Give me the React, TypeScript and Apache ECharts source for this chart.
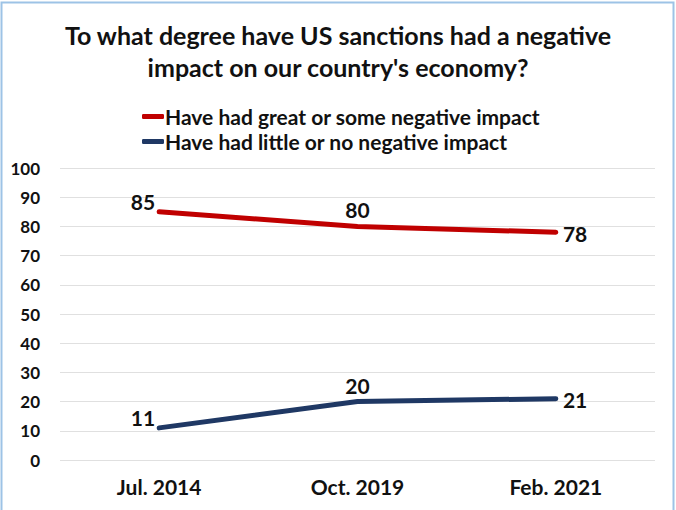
import React, { useEffect, useRef } from "react";
import * as echarts from "echarts";

const categories = ["Jul. 2014", "Oct. 2019", "Feb. 2021"];
const negativeImpact = [85, 80, 78];
const littleImpact = [11, 20, 21];
const seriesNames = [
  "Have had great or some negative impact",
  "Have had little or no negative impact",
];
const titleText = "To what degree have US sanctions had a negative\nimpact on our country's economy?";

const FONT = "Lato, 'Open Sans', sans-serif";

export default function App() {
  const ref = useRef<HTMLDivElement>(null);
  useEffect(() => {
    document.body.style.margin = "0";
    const chart = echarts.init(ref.current!, null, { renderer: "svg" });
    const labelPos = ["left", "top", "right"];
    const labelDist = [4, 6, 7];
    const labelOffset = [[0, -10], [0, 0], [0, 1]];
    const mkData = (vals: number[]) =>
      vals.map((v, i) => ({
        value: v,
        label: { position: labelPos[i], distance: labelDist[i], offset: labelOffset[i] },
      }));
    const labelStyle = {
      show: true,
      fontFamily: FONT,
      fontSize: 21,
      fontWeight: "bold",
      color: "#111",
    };
    chart.setOption({
      animation: false,
      backgroundColor: "#ffffff",
      title: {
        text: titleText,
        left: "center",
        top: 14,
        textStyle: {
          fontFamily: FONT,
          fontSize: 25,
          fontWeight: "bold",
          color: "#111",
          lineHeight: 32,
        },
      },
      legend: {
        orient: "vertical",
        left: 137,
        top: 101,
        itemWidth: 22,
        itemHeight: 5,
        itemGap: 4,
        icon: "roundRect",
        textStyle: {
          fontFamily: FONT,
          fontSize: 21,
          fontWeight: "bold",
          color: "#111",
          padding: [0, 0, 0, -4],
        },
        data: seriesNames,
      },
      grid: { left: 60, right: 21, top: 168, bottom: 50 },
      xAxis: {
        type: "category",
        data: categories,
        boundaryGap: true,
        axisLine: { show: false },
        axisTick: { show: false },
        axisLabel: {
          fontFamily: FONT,
          fontSize: 21,
          fontWeight: "bold",
          color: "#111",
          margin: 16,
        },
      },
      yAxis: {
        type: "value",
        min: 0,
        max: 100,
        interval: 10,
        axisLine: { show: false },
        axisTick: { show: false },
        splitLine: { lineStyle: { color: "#e0e0e0", width: 1 } },
        axisLabel: {
          fontFamily: FONT,
          fontSize: 17,
          fontWeight: "bold",
          color: "#111",
          margin: 20,
        },
      },
      series: [
        {
          name: seriesNames[0],
          type: "line",
          data: mkData(negativeImpact),
          symbol: "circle",
          symbolSize: 0.1,
          lineStyle: { color: "#C00000", width: 5, cap: "round" },
          itemStyle: { color: "#C00000" },
          label: labelStyle,
        },
        {
          name: seriesNames[1],
          type: "line",
          data: mkData(littleImpact),
          symbol: "circle",
          symbolSize: 0.1,
          lineStyle: { color: "#1F3864", width: 5, cap: "round" },
          itemStyle: { color: "#1F3864" },
          label: labelStyle,
        },
      ],
      graphic: [
        {
          type: "rect",
          shape: { x: 1.5, y: 2.5, width: 672, height: 520 },
          style: { fill: "none", stroke: "#9DC3E6", lineWidth: 2 },
          silent: true,
        },
      ],
    });
    return () => chart.dispose();
  }, []);
  return <div ref={ref} style={{ width: 676, height: 510 }} />;
}
